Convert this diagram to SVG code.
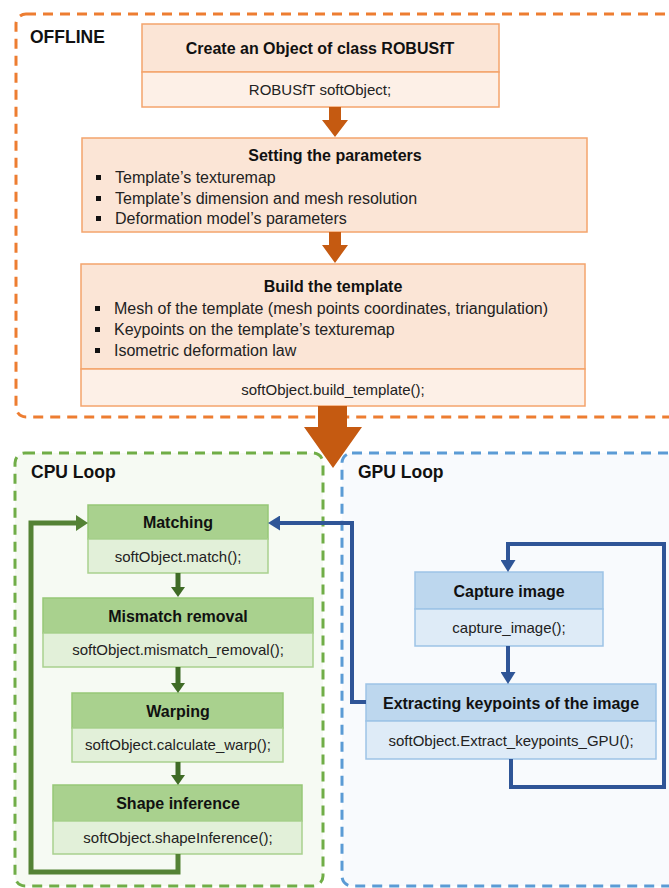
<svg xmlns="http://www.w3.org/2000/svg" width="669" height="888" viewBox="0 0 669 888">
<defs>
<style>
text{font-family:"Liberation Sans",Arial,sans-serif;fill:#111;}
.t{font-size:16px;font-weight:bold;text-anchor:middle;}
.c{font-size:15px;text-anchor:middle;fill:#222;}
.b{font-size:16px;fill:#222;}
.g{font-size:17.5px;font-weight:bold;}
.oh{fill:#FBE5D6;stroke:#F4A46C;stroke-width:1.5;}
.ob{fill:#FDF0E7;stroke:#F4A46C;stroke-width:1.5;}
.gh{fill:#A9D18E;stroke:#97C777;stroke-width:1.5;}
.gb{fill:#E2F0D9;stroke:#A9D18E;stroke-width:1.5;}
.bh{fill:#BDD7EE;stroke:#9DC3E6;stroke-width:1.5;}
.bb{fill:#DEEBF7;stroke:#9DC3E6;stroke-width:1.5;}
.oa{fill:#C55A11;}
.sq{fill:#111;}
</style>
<marker id="ag" markerUnits="userSpaceOnUse" markerWidth="12" markerHeight="16" refX="0" refY="8" orient="auto"><path d="M0,0 L12,8 L0,16 z" fill="#548235"/></marker>
<marker id="agd" markerUnits="userSpaceOnUse" markerWidth="10" markerHeight="14" refX="0" refY="7" orient="auto"><path d="M0,0 L10,7 L0,14 z" fill="#3F6B26"/></marker>
<marker id="ab" markerUnits="userSpaceOnUse" markerWidth="12" markerHeight="15" refX="0" refY="7.5" orient="auto"><path d="M0,0 L12,7.5 L0,15 z" fill="#2F5597"/></marker>
</defs>
<rect width="669" height="888" fill="#fff"/>
<g id="offline">
<rect x="16" y="14" width="680" height="403" rx="10" fill="#fff" stroke="#ED7D31" stroke-width="3" stroke-dasharray="10,7"/>
<text class="g" x="30" y="43">OFFLINE</text>
</g>
<g id="cpu">
<rect x="15" y="453" width="308" height="433" rx="10" fill="#F6FAF3" stroke="#70AD47" stroke-width="3" stroke-dasharray="10,7"/>
<text class="g" x="31" y="478">CPU Loop</text>
</g>
<g id="gpu">
<rect x="342" y="453" width="340" height="433" rx="10" fill="#F8FAFD" stroke="#5B9BD5" stroke-width="3" stroke-dasharray="10,7"/>
<text class="g" x="358" y="478">GPU Loop</text>
</g>
<g id="create">
<rect class="oh" x="142" y="24" width="357" height="48"/>
<rect class="ob" x="142" y="72" width="357" height="35"/>
<text class="t" x="320" y="54">Create an Object of class ROBUSfT</text>
<text class="c" x="320" y="95">ROBUSfT softObject;</text>
</g>
<g id="params">
<rect class="oh" x="82" y="138" width="505" height="94"/>
<text class="t" x="335" y="161">Setting the parameters</text>
<rect class="sq" x="96" y="175" width="5" height="5"/>
<rect class="sq" x="96" y="196" width="5" height="5"/>
<rect class="sq" x="96" y="216" width="5" height="5"/>
<text class="b" x="115" y="183">Template’s texturemap</text>
<text class="b" x="115" y="204">Template’s dimension and mesh resolution</text>
<text class="b" x="115" y="224">Deformation model’s parameters</text>
</g>
<g id="build">
<rect class="oh" x="81" y="264" width="504" height="105"/>
<rect class="ob" x="81" y="369" width="504" height="37"/>
<text class="t" x="333" y="292">Build the template</text>
<rect class="sq" x="95" y="306" width="5" height="5"/>
<rect class="sq" x="95" y="327" width="5" height="5"/>
<rect class="sq" x="95" y="348" width="5" height="5"/>
<text class="b" x="114" y="314">Mesh of the template (mesh points coordinates, triangulation)</text>
<text class="b" x="114" y="335">Keypoints on the template’s texturemap</text>
<text class="b" x="114" y="356">Isometric deformation law</text>
<text class="c" x="333" y="395">softObject.build_template();</text>
</g>
<g id="matching">
<rect class="gh" x="88" y="505" width="180" height="34"/>
<rect class="gb" x="88" y="539" width="180" height="34"/>
<text class="t" x="178" y="528">Matching</text>
<text class="c" x="178" y="562">softObject.match();</text>
</g>
<g id="mismatch">
<rect class="gh" x="43" y="598" width="270" height="35"/>
<rect class="gb" x="43" y="633" width="270" height="34"/>
<text class="t" x="178" y="622">Mismatch removal</text>
<text class="c" x="178" y="655">softObject.mismatch_removal();</text>
</g>
<g id="warping">
<rect class="gh" x="72" y="693" width="211" height="35"/>
<rect class="gb" x="72" y="728" width="211" height="34"/>
<text class="t" x="178" y="717">Warping</text>
<text class="c" x="178" y="750">softObject.calculate_warp();</text>
</g>
<g id="shape">
<rect class="gh" x="53" y="785" width="249" height="36"/>
<rect class="gb" x="53" y="821" width="249" height="33"/>
<text class="t" x="178" y="809">Shape inference</text>
<text class="c" x="178" y="843">softObject.shapeInference();</text>
</g>
<g id="capture">
<rect class="bh" x="415" y="572" width="188" height="37"/>
<rect class="bb" x="415" y="609" width="188" height="37"/>
<text class="t" x="509" y="597">Capture image</text>
<text class="c" x="509" y="633">capture_image();</text>
</g>
<g id="extract">
<rect class="bh" x="366" y="684" width="290" height="37"/>
<rect class="bb" x="366" y="721" width="290" height="38"/>
<text class="t" x="511" y="709">Extracting keypoints of the image</text>
<text class="c" x="511" y="746">softObject.Extract_keypoints_GPU();</text>
</g>
<g id="connectors" fill="none">
<polygon class="oa" points="329,107 341,107 341,120 348,120 335,137 322,120 329,120"/>
<polygon class="oa" points="329,232 341,232 341,245 348,245 335,263 322,245 329,245"/>
<polygon class="oa" points="318,406 347,406 347,427 362,427 333,468 304,427 318,427"/>
<line x1="178" y1="573" x2="178" y2="587" stroke="#3F6B26" stroke-width="5" marker-end="url(#agd)"/>
<line x1="178" y1="667" x2="178" y2="683" stroke="#3F6B26" stroke-width="5" marker-end="url(#agd)"/>
<line x1="178" y1="762" x2="178" y2="775" stroke="#3F6B26" stroke-width="5" marker-end="url(#agd)"/>
<path d="M178,854 V872 H31 V523 H76" stroke="#548235" stroke-width="5" marker-end="url(#ag)"/>
<path d="M366,702 H352 V523 H280" stroke="#2F5597" stroke-width="4" marker-end="url(#ab)"/>
<path d="M511,759 V787 H664 V544 H508 V560" stroke="#2F5597" stroke-width="4" marker-end="url(#ab)"/>
<line x1="508" y1="646" x2="508" y2="672" stroke="#2F5597" stroke-width="4" marker-end="url(#ab)"/>
</g>
</svg>
